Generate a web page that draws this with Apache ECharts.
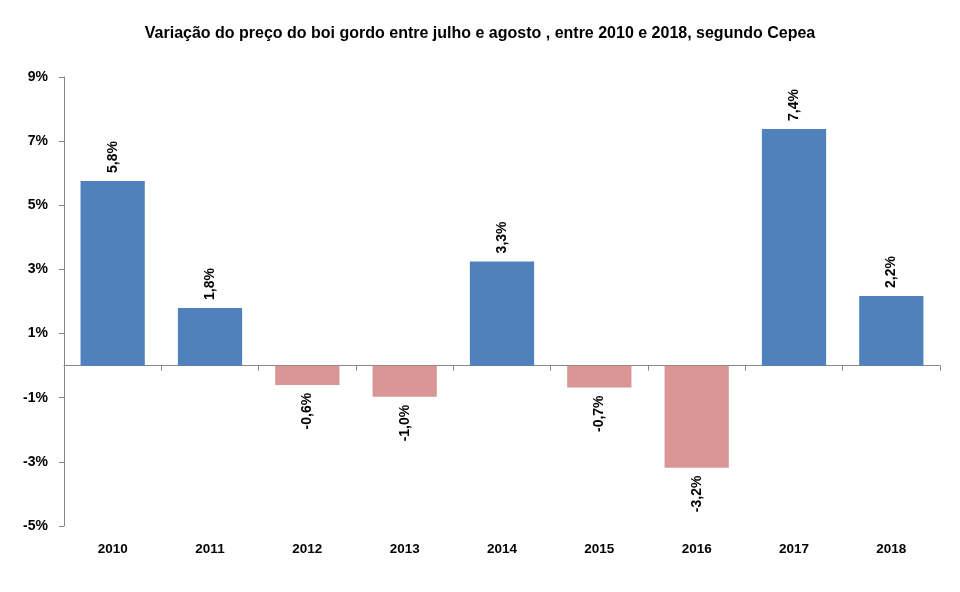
<!DOCTYPE html>
<html><head><meta charset="utf-8">
<script src="https://cdn.jsdelivr.net/npm/echarts@6/dist/echarts.min.js"></script>
<style>html,body{margin:0;padding:0;background:#fff}#c{width:960px;height:592px}</style>
</head><body><div id="c"></div>
<script>
const titleText = 'Variação do preço do boi gordo entre julho e agosto , entre 2010 e 2018, segundo Cepea';
const categories = ['2010','2011','2012','2013','2014','2015','2016','2017','2018'];
const values = [5.76, 1.8, -0.6, -0.97, 3.25, -0.68, -3.18, 7.38, 2.17];
const yTicks = {min: -5, max: 9, interval: 2};

const FONT = 'Liberation Sans';
const pos = '#4F81BD', neg = '#D99694';
const fmt = v => v.toFixed(1).replace('.', ',') + '%';

const chart = echarts.init(document.getElementById('c'));
chart.setOption({
  animation: false,
  backgroundColor: '#fff',
  title: {text: titleText, left: 'center', top: 21,
    textStyle: {fontFamily: FONT, fontSize: 16, fontWeight: 'bold', color: '#000'}},
  grid: {left: 64, right: 20, top: 77, bottom: 66},
  xAxis: [
    {type: 'category', data: categories, position: 'bottom',
     axisLine: {show: false, onZero: false}, axisTick: {show: false},
     axisLabel: {margin: 16, fontFamily: FONT, fontSize: 13.5, fontWeight: 'bold', color: '#000'}},
    {type: 'category', data: categories, position: 'bottom',
     axisLine: {show: true, onZero: true, lineStyle: {color: '#868686', width: 1}},
     axisTick: {show: true, length: 5, lineStyle: {color: '#868686'}},
     axisLabel: {show: false}}
  ],
  yAxis: {type: 'value', min: yTicks.min, max: yTicks.max, interval: yTicks.interval,
    axisLine: {show: true, lineStyle: {color: '#868686', width: 1}},
    axisTick: {show: true, length: 5, lineStyle: {color: '#868686'}},
    splitLine: {show: false},
    axisLabel: {margin: 16, formatter: v => v + '%', fontFamily: FONT, fontSize: 14, fontWeight: 'bold', color: '#000'}},
  series: [{
    type: 'bar', xAxisIndex: 0, barWidth: '66%',
    data: values.map(v => ({
      value: v,
      itemStyle: {color: v >= 0 ? pos : neg},
      label: {show: true, position: v >= 0 ? 'top' : 'bottom', rotate: 90,
        align: v >= 0 ? 'left' : 'right', verticalAlign: 'middle', distance: 8,
        formatter: () => fmt(v), fontFamily: FONT, fontSize: 14, fontWeight: 'bold', color: '#000'}
    }))
  }]
});
</script></body></html>
